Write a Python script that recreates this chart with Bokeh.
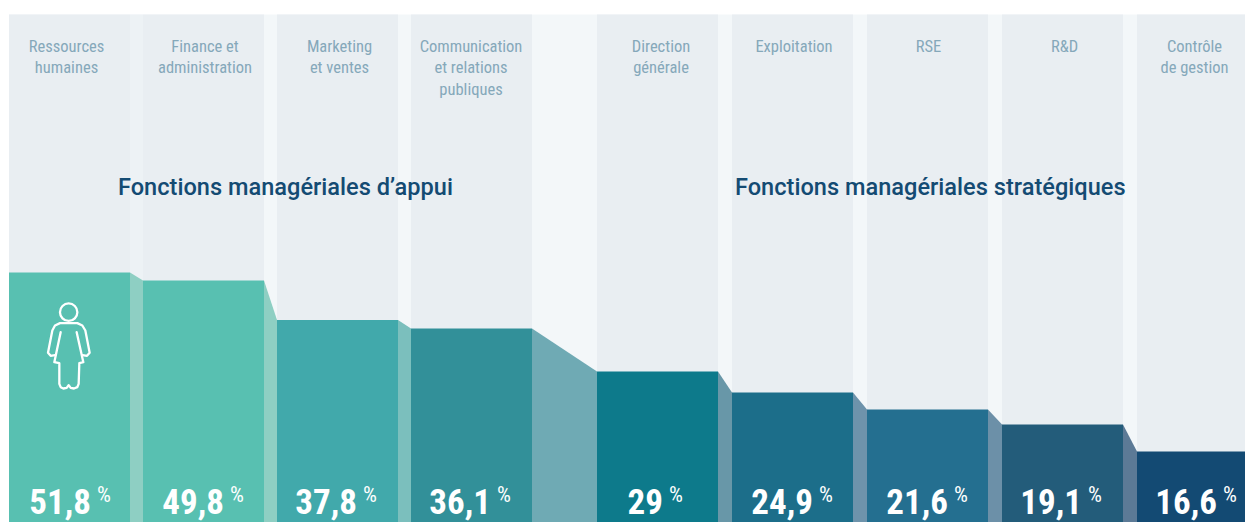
from bokeh.plotting import figure
from bokeh.embed import file_html
from bokeh.resources import INLINE
from bokeh.core.properties import value as fv

# ---- data ----
categories = [["Ressources", "humaines"], ["Finance et", "administration"], ["Marketing", "et ventes"],
              ["Communication", "et relations", "publiques"], ["Direction", "générale"], ["Exploitation"],
              ["RSE"], ["R&D"], ["Contrôle", "de gestion"]]
value_labels = ["51,8", "49,8", "37,8", "36,1", "29", "24,9", "21,6", "19,1", "16,6"]
# drawn bar heights (the original's steps are not proportional to the printed percentages)
drawn_levels = [250, 242, 202.5, 194, 151, 130, 113, 98, 71]
group_titles = ["Fonctions managériales d’appui", "Fonctions managériales stratégiques"]
bar_colors = ["#58C0B1", "#58C0B1", "#41A9AB", "#329099", "#0D7A8B", "#1C6E8A", "#246F90", "#235C7A", "#134A73"]
gap_colors = ["#8ECFC3", "#8ECFC3", "#7BBFBD", "#6FAAB4", "#6897A8", "#6E93AB", "#6C90A8", "#5C7A96"]

# ---- layout ----
W, H = 1245, 522
BOTTOM = 522
BW = 121
lefts = [9 + 134 * i for i in range(4)] + [597 + 135 * i for i in range(5)]
rights = [l + BW for l in lefts]
TOP = BOTTOM - 14
label_nudge = [-3, 1.5, 2, -0.5, 3.5, 1.5, 1, 2, -3]
value_end = [82, 81, 80, 80, 66, 81, 81, 80, 80]

p = figure(width=W, height=H, x_range=(0.5, W + 0.5), y_range=(0, H), output_backend="svg",
           toolbar_location=None, min_border=0, outline_line_color=None, background_fill_color="white",
           border_fill_color="white")
p.axis.visible = False
p.grid.visible = False

NARROW = fv("'Roboto Condensed', Roboto")

# pale background columns and gaps
p.quad(left=[lefts[0]], right=[W + 1], bottom=[0], top=[TOP], fill_color="#F3F7F9", line_color=None)
p.quad(left=[rights[0]], right=[lefts[1]], bottom=[0], top=[TOP], fill_color="#EDF2F5", line_color=None)
p.quad(left=lefts, right=rights, bottom=0, top=TOP, fill_color="#E9EEF2", line_color=None)

# connectors
gx, gy = [], []
for i in range(8):
    gx.append([rights[i], lefts[i + 1], lefts[i + 1], rights[i]])
    gy.append([drawn_levels[i], drawn_levels[i + 1], 0, 0])
p.patches(gx, gy, fill_color=gap_colors, line_color=None)

# bars
p.quad(left=lefts, right=rights, bottom=0, top=drawn_levels, fill_color=bar_colors, line_color=None)

# category labels
tx, ty, tt = [], [], []
for i, lines in enumerate(categories):
    for j, s in enumerate(lines):
        tx.append(lefts[i] + BW / 2 + label_nudge[i])
        ty.append(BOTTOM - (45.8 + 21.5 * j))
        tt.append(s)
p.text(tx, ty, text=tt, text_font=NARROW, text_font_size="16.5px", text_color="#85A8BA",
       text_align="center", text_baseline="middle")

# group titles
p.text([118, 735], [BOTTOM - 186.5] * 2, text=group_titles, text_font=fv("'Roboto Medium', Roboto"),
       text_font_size="23.55px", text_color="#144B73", text_align="left", text_baseline="middle")

# values
vx = [l + e for l, e in zip(lefts, value_end)]
p.text(vx, [BOTTOM - 500.5] * 9, text=value_labels, text_font=NARROW, text_font_style="bold",
       text_font_size="35px", text_color="white", text_align="right", text_baseline="middle")
p.text([x + 6 for x in vx], [BOTTOM - 494] * 9, text=["%"] * 9, text_font=NARROW,
       text_font_size="22px", text_color="white", text_align="left", text_baseline="middle")

# woman icon
def ix(z): return z / 3
def iy(z): return BOTTOM - (250 + z / 3)
outer = [(165,314),(152,316),(144,307),(157,240),(165,225),(180,218),(232,218),(247,225),(256,240),(269,307),(261,316),(248,314)]
body = [(230,245),(250,335),(238,338),(236,400),(232,410),(222,414),(212,412),(206,404),(200,412),(190,414),(182,410),(178,400),(178,338),(163,335),(182,245)]
for path in (outer, body):
    p.line([ix(a) for a, b in path], [iy(b) for a, b in path], line_color="white", line_width=2.3,
           line_join="round", line_cap="round")
p.circle([ix(206)], [iy(185)], radius=8.7, fill_color=None, line_color="white", line_width=2.3)

open("out.html", "w").write(file_html(p, INLINE))
